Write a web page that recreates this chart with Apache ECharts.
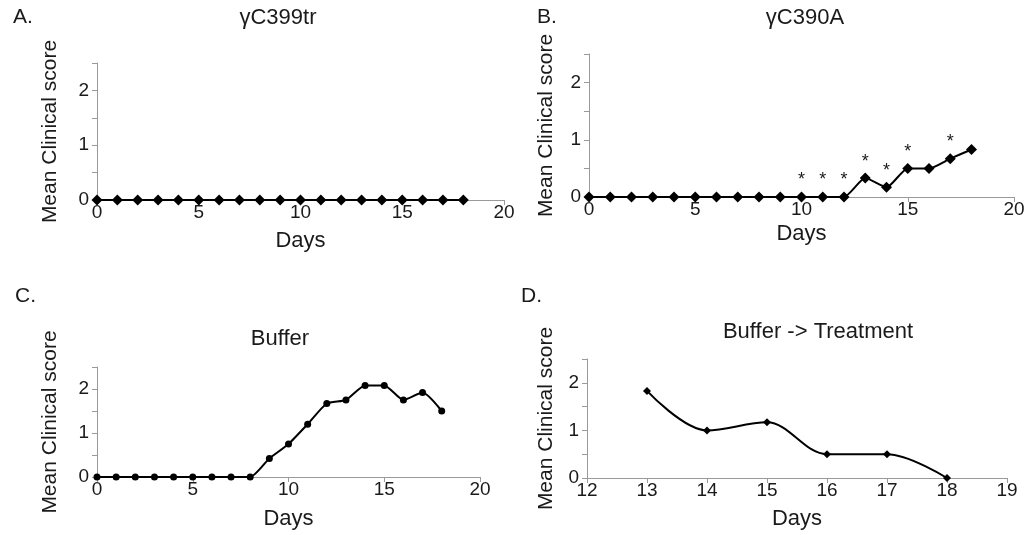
<!DOCTYPE html>
<html>
<head>
<meta charset="utf-8">
<script src="https://cdn.jsdelivr.net/npm/echarts@6/dist/echarts.min.js"></script>
<style>
  html, body { margin: 0; padding: 0; background: #fff; }
  #chart { width: 1030px; height: 535px; }
</style>
</head>
<body>
<div id="chart"></div>
<script>
// data
var daysA = [0, 1, 2, 3, 4, 5, 6, 7, 8, 9, 10, 11, 12, 13, 14, 15, 16, 17, 18];
var scoreA = [0, 0, 0, 0, 0, 0, 0, 0, 0, 0, 0, 0, 0, 0, 0, 0, 0, 0, 0];

var daysB = [0, 1, 2, 3, 4, 5, 6, 7, 8, 9, 10, 11, 12, 13, 14, 15, 16, 17, 18];
var scoreB = [0, 0, 0, 0, 0, 0, 0, 0, 0, 0, 0, 0, 0, 0.33, 0.17, 0.5, 0.5, 0.67, 0.83];
var starDaysB = [10, 11, 12, 13, 14, 15, 17];

var daysC = [0, 1, 2, 3, 4, 5, 6, 7, 8, 9, 10, 11, 12, 13, 14, 15, 16, 17, 18];
var scoreC = [0, 0, 0, 0, 0, 0, 0, 0, 0, 0.42, 0.75, 1.2, 1.67, 1.75, 2.08, 2.08, 1.75, 1.92, 1.5];

var daysD = [13, 14, 15, 16, 17, 18];
var scoreD = [1.83, 1, 1.17, 0.5, 0.5, 0];

var panelTitles = ['\u03b3C399tr', '\u03b3C390A', 'Buffer', 'Buffer -> Treatment'];
var panelLetters = ['A.', 'B.', 'C.', 'D.'];

var FONT = 'Liberation Sans, Arial, sans-serif';
var TXT = '#1a1a1a';
var AXIS = '#9a9a9a';

var chart = echarts.init(document.getElementById('chart'));

// one grid per panel
var grids = [
    { left: 97, top: 63, width: 407, height: 137 },
    { left: 589, top: 54, width: 425, height: 143 },
    { left: 97, top: 367, width: 383, height: 110 },
    { left: 587, top: 359, width: 420, height: 119 }
];
grids.forEach(function (g) { g.containLabel = false; g.outerBoundsMode = 'none'; });

var xRange = [
    { min: 0, max: 20, interval: 5 },
    { min: 0, max: 20, interval: 5 },
    { min: 0, max: 20, interval: 5 },
    { min: 12, max: 19, interval: 1 }
];
var yNameGap = [36, 32, 36, 30];
var xNameGap = [30, 26, 31, 30];

function pairs(xs, ys) {
    return xs.map(function (x, i) { return [x, ys[i]]; });
}

var xAxes = xRange.map(function (r, i) {
    return {
        type: 'value', gridIndex: i, min: r.min, max: r.max, interval: r.interval,
        name: 'Days', nameLocation: 'middle', nameGap: xNameGap[i],
        nameTextStyle: { fontFamily: FONT, fontSize: 22, color: TXT },
        axisLine: { onZero: false, lineStyle: { color: AXIS, width: 1 } },
        axisTick: { show: true, length: 5, lineStyle: { color: AXIS } },
        axisLabel: { fontFamily: FONT, fontSize: 19, color: TXT, margin: 3 },
        splitLine: { show: false }
    };
});

var yAxes = grids.map(function (g, i) {
    return {
        type: 'value', gridIndex: i, min: 0, max: 2.5, interval: 0.5,
        name: 'Mean Clinical score', nameLocation: 'middle', nameGap: yNameGap[i],
        nameTextStyle: { fontFamily: FONT, fontSize: 21, color: TXT },
        axisLine: { show: true, lineStyle: { color: AXIS, width: 1 } },
        axisTick: { show: true, length: 5, lineStyle: { color: AXIS } },
        axisLabel: {
            fontFamily: FONT, fontSize: 19, color: TXT, margin: 8,
            formatter: function (v) { return v % 1 === 0 ? String(v) : ''; }
        },
        splitLine: { show: false }
    };
});

var lineStyle = { color: '#000', width: 2 };

var dataB = pairs(daysB, scoreB).map(function (p) {
    var starred = starDaysB.indexOf(p[0]) >= 0;
    return {
        value: p,
        label: { show: starred, formatter: '*', position: 'top', distance: 2,
            fontFamily: FONT, fontSize: 18, color: TXT }
    };
});

var series = [
    { type: 'line', xAxisIndex: 0, yAxisIndex: 0, data: pairs(daysA, scoreA),
      symbol: 'diamond', symbolSize: 11, smooth: 0.2, lineStyle: lineStyle,
      itemStyle: { color: '#000' } },
    { type: 'line', xAxisIndex: 1, yAxisIndex: 1, data: dataB,
      symbol: 'diamond', symbolSize: 11, smooth: 0.2, lineStyle: lineStyle,
      itemStyle: { color: '#000' } },
    { type: 'line', xAxisIndex: 2, yAxisIndex: 2, data: pairs(daysC, scoreC),
      symbol: 'circle', symbolSize: 7, smooth: 0.2, lineStyle: lineStyle,
      itemStyle: { color: '#000' } },
    { type: 'line', xAxisIndex: 3, yAxisIndex: 3, data: pairs(daysD, scoreD),
      symbol: 'diamond', symbolSize: 8, smooth: 0.35, lineStyle: lineStyle,
      itemStyle: { color: '#000' } }
];

// panel titles and letters
var titlePos = [[273, 2], [800, 2], [275, 323], [813, 316]];
var letterPos = [[8, 2], [532, 2], [10, 281], [516, 281]];
var titles = [];
panelTitles.forEach(function (t, i) {
    titles.push({ text: t, left: titlePos[i][0], top: titlePos[i][1], textAlign: 'center',
        textStyle: { fontFamily: FONT, fontSize: 22, fontWeight: 'normal', color: TXT } });
});
panelLetters.forEach(function (t, i) {
    titles.push({ text: t, left: letterPos[i][0], top: letterPos[i][1],
        textStyle: { fontFamily: FONT, fontSize: 21, fontWeight: 'normal', color: TXT } });
});

chart.setOption({
    backgroundColor: '#fff',
    animation: false,
    title: titles,
    grid: grids,
    xAxis: xAxes,
    yAxis: yAxes,
    series: series
});
</script>
</body>
</html>
